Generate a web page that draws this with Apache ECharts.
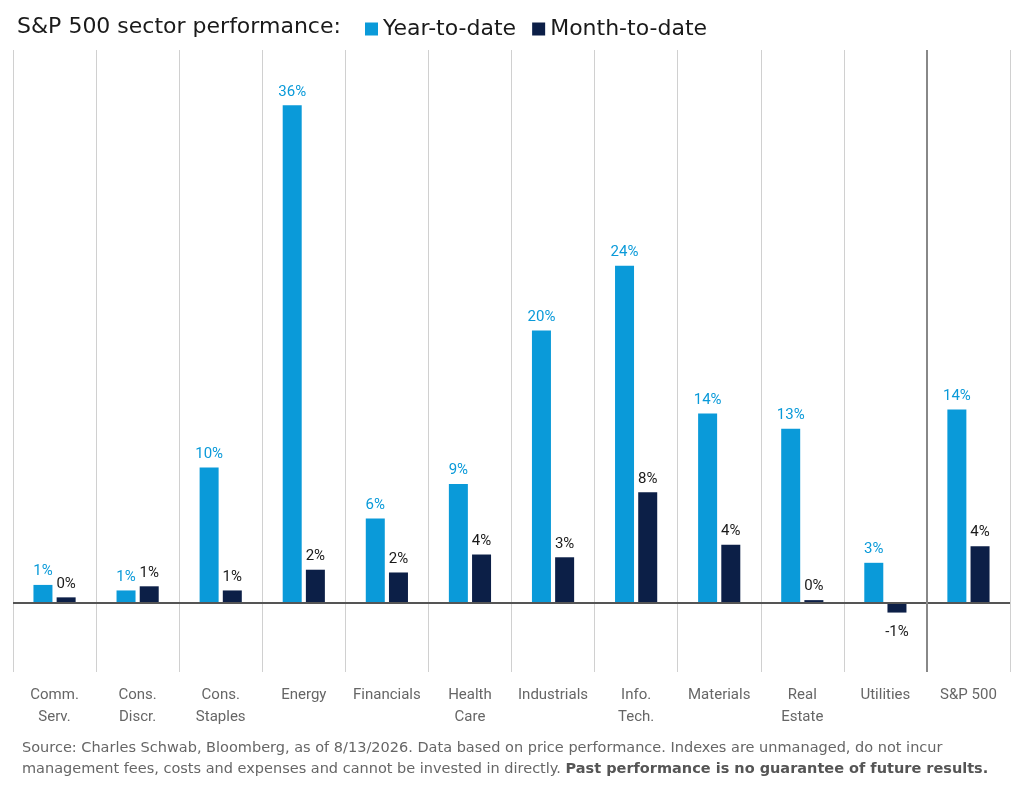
<!DOCTYPE html>
<html><head><meta charset="utf-8">
<script src="https://cdn.jsdelivr.net/npm/echarts@6/dist/echarts.min.js"></script>
<style>body{margin:0;background:#fff}#c{width:1015px;height:790px}</style>
</head><body><div id="c"></div>
<script>
var categories = ['Comm.\nServ.', 'Cons.\nDiscr.', 'Cons.\nStaples', 'Energy', 'Financials', 'Health\nCare', 'Industrials', 'Info.\nTech.', 'Materials', 'Real\nEstate', 'Utilities', 'S&P 500'];
var ytd = [1.3, 0.9, 9.8, 36.0, 6.1, 8.6, 19.7, 24.4, 13.7, 12.6, 2.9, 14.0];
var mtd = [0.4, 1.2, 0.9, 2.4, 2.2, 3.5, 3.3, 8.0, 4.2, 0.2, -0.7, 4.1];

var chart = echarts.init(document.getElementById('c'));
var font = 'Roboto, "Open Sans", sans-serif';
var dv = '"DejaVu Sans", sans-serif';
function lbl(color) {
  return {show: true, position: 'top', distance: 6, color: color, fontSize: 15, fontFamily: font,
    formatter: function (p) { return Math.round(p.value) + '%'; }};
}
chart.setOption({
  animation: false,
  title: {text: 'S&P 500 sector performance:', left: 12, top: 11,
    textStyle: {fontSize: 22, fontWeight: 'normal', color: '#1a1a1a', fontFamily: dv}},
  legend: {left: 360, top: 13, itemWidth: 13, itemHeight: 13, itemGap: 16, icon: 'rect',
    textStyle: {fontSize: 22, color: '#1a1a1a', fontFamily: dv},
    data: ['Year-to-date', 'Month-to-date']},
  grid: {left: 13, right: 5, top: 50, bottom: 118},
  xAxis: [
    {type: 'category', data: categories, position: 'bottom',
      axisLine: {onZero: false, show: false}, axisTick: {show: false},
      axisLabel: {interval: 0, color: '#666', fontSize: 15, fontFamily: font, lineHeight: 22, margin: 12}},
    {type: 'value', min: 0, max: 12, interval: 1, show: true, position: 'top',
      axisLine: {show: false}, axisTick: {show: false}, axisLabel: {show: false},
      splitLine: {show: true, lineStyle: {color: '#d0d0d0', width: 1}}}
  ],
  yAxis: {type: 'value', min: -5, max: 40, show: false, splitLine: {show: false}},
  series: [
    {name: 'Year-to-date', type: 'bar', data: ytd, barWidth: 19, barGap: '22%',
      itemStyle: {color: '#0a9ad9'}, label: lbl('#0a9ad9'),
      markLine: {silent: true, symbol: 'none', label: {show: false},
        lineStyle: {color: '#555', width: 2, type: 'solid'}, data: [{yAxis: 0}]}},
    {name: 'Month-to-date', type: 'bar', barWidth: 19,
      itemStyle: {color: '#0c1f47'}, label: lbl('#1a1a1a'),
      data: mtd.map(function (v) {
        return v < 0 ? {value: v, label: {position: 'bottom', distance: 12}} : v; })},
    {type: 'line', xAxisIndex: 1, data: [], markLine: {silent: true, symbol: 'none', label: {show: false},
      lineStyle: {color: '#888', width: 2, type: 'solid'}, data: [{xAxis: 11}]}}
  ],
  graphic: [{type: 'text', left: 22, top: 738, style: {
    text: 'Source: Charles Schwab, Bloomberg, as of 8/13/2026. Data based on price performance. Indexes are unmanaged, do not incur\nmanagement fees, costs and expenses and cannot be invested in directly. {b|Past performance is no guarantee of future results.}',
    fill: '#666', fontSize: 14.5, lineHeight: 21, fontFamily: dv,
    rich: {b: {fontWeight: 'bold', fill: '#555', fontSize: 14.5, fontFamily: dv}}}}]
});
</script></body></html>
